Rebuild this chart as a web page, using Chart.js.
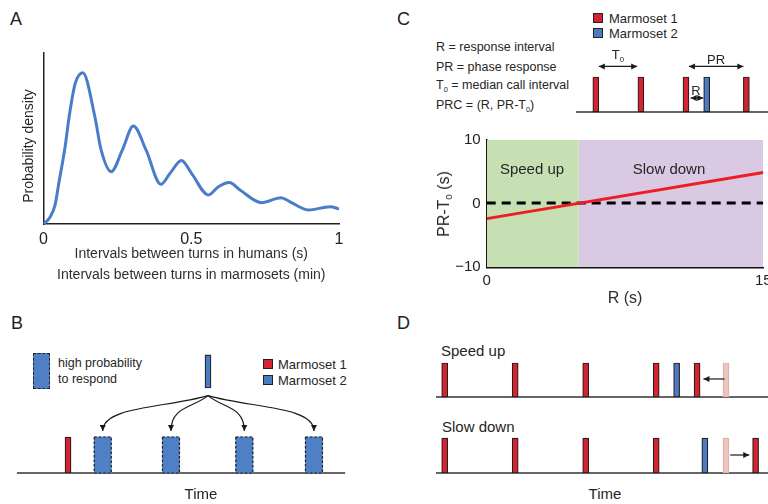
<!DOCTYPE html>
<html>
<head>
<meta charset="utf-8">
<script src="https://cdn.jsdelivr.net/npm/chart.js@4.4.1/dist/chart.umd.min.js"></script>
<style>
  html, body { margin: 0; padding: 0; background: #fff; }
  body { width: 768px; height: 504px; position: relative; overflow: hidden;
         font-family: 'Liberation Sans', Arial, sans-serif; color: #262626; }
  canvas { position: absolute; }
  .l, .c { position: absolute; white-space: nowrap; line-height: 1; }
  .l { transform: translateY(-50%); }
  .c { transform: translate(-50%, -50%); }
  .rot { transform: translate(-50%, -50%) rotate(-90deg); }
  .letter { font-size: 18px; color: #1e1e1e; }
  .sq { position: absolute; width: 10px; height: 10px; border: 1px solid #222; box-sizing: border-box; }
  .sub { font-size: 0.6em; position: relative; top: 0.35em; }
</style>
</head>
<body>

<!-- panel letters -->
<div class="l letter" style="left:10px;top:19px">A</div>
<div class="l letter" style="left:397px;top:19px">C</div>
<div class="l letter" style="left:11px;top:323px">B</div>
<div class="l letter" style="left:397px;top:323px">D</div>

<!-- A -->
<canvas id="densityChart" width="384" height="290" style="left:0;top:0"></canvas>
<div class="c rot" style="left:27.5px;top:146px;font-size:14px">Probability density</div>

<!-- C text + schematic -->
<div class="l" style="left:436px;top:47px;font-size:12.5px">R = response interval</div>
<div class="l" style="left:436px;top:67px;font-size:12.5px">PR = phase response</div>
<div class="l" style="left:436px;top:85px;font-size:12.5px">T<span class="sub">0</span> = median call interval</div>
<div class="l" style="left:436px;top:105px;font-size:12.5px">PRC = (R, PR-T<span class="sub">0</span>)</div>
<div class="sq" style="left:593px;top:13px;background:#d42432"></div>
<div class="l" style="left:609px;top:18px;font-size:13px">Marmoset 1</div>
<div class="sq" style="left:593px;top:28px;background:#4a7cc4"></div>
<div class="l" style="left:609px;top:33px;font-size:13px">Marmoset 2</div>
<canvas id="defChart" width="192" height="65" style="left:576px;top:50px"></canvas>
<div class="c" style="left:618px;top:54px;font-size:13px">T<span class="sub">0</span></div>
<div class="c" style="left:716px;top:59px;font-size:13px">PR</div>
<div class="c" style="left:696px;top:90px;font-size:13px">R</div>

<!-- C chart -->
<canvas id="prcChart" width="384" height="180" style="left:384px;top:130px"></canvas>
<div class="c" style="left:532px;top:168px;font-size:15px">Speed up</div>
<div class="c" style="left:669px;top:168px;font-size:15px">Slow down</div>
<div class="c rot" style="left:444px;top:204px;font-size:16px">PR-T<span class="sub">0</span> (s)</div>

<!-- B -->
<div style="position:absolute;left:33px;top:353px;width:17px;height:36px;box-sizing:border-box;background:#4f80c6;border:1px dashed #222"></div>
<div class="l" style="left:58px;top:363px;font-size:12.5px">high probability</div>
<div class="l" style="left:58px;top:379px;font-size:12.5px">to respond</div>
<div class="sq" style="left:263px;top:359px;background:#d42432"></div>
<div class="l" style="left:278px;top:363.5px;font-size:13px">Marmoset 1</div>
<div class="sq" style="left:263px;top:375px;background:#4a7cc4"></div>
<div class="l" style="left:278px;top:379.5px;font-size:13px">Marmoset 2</div>
<canvas id="turnChart" width="340" height="140" style="left:10px;top:340px"></canvas>
<div class="c" style="left:201px;top:493px;font-size:15px">Time</div>

<!-- D -->
<div class="l" style="left:441px;top:350px;font-size:15px">Speed up</div>
<canvas id="speedChart" width="338" height="47" style="left:430px;top:355px"></canvas>
<div class="l" style="left:442px;top:426px;font-size:15px">Slow down</div>
<canvas id="slowChart" width="338" height="47" style="left:430px;top:430px"></canvas>
<div class="c" style="left:605px;top:493px;font-size:15px">Time</div>

<script>
// ---- data ----
// A: probability density of inter-turn intervals
const densityX = [0, 0.022, 0.039, 0.052, 0.073, 0.087, 0.107, 0.133, 0.174, 0.195, 0.229, 0.267,
  0.304, 0.347, 0.397, 0.428, 0.467, 0.501, 0.558, 0.592, 0.629, 0.665, 0.738, 0.804, 0.834,
  0.896, 0.97, 1.0];
const densityY = [0, 0.04, 0.11, 0.24, 0.45, 0.63, 0.82, 0.885, 0.626, 0.433, 0.306, 0.433,
  0.573, 0.433, 0.232, 0.296, 0.372, 0.296, 0.17, 0.218, 0.242, 0.199, 0.125, 0.154, 0.13,
  0.082, 0.101, 0.088];
const densityTicks = [0, 0.5, 1];

// C: phase response curve
const prcR = [0, 15];
const prcValue = [-2.35, 4.9];
const zeroLevel = [0.1, 0.1];
const speedUpRange = [0, 5];
const slowDownRange = [5, 15];
const prcXTicks = [0, 15];
const prcYTicks = [-10, 0, 10];

// C: definition schematic (call onsets)
const defMarmoset1 = [0, 5, 10, 16.7];
const defMarmoset2 = [12.3];

// B: turn-taking schematic
const turnMarmoset1 = [0];
const turnMarmoset2 = [20];
const respondWindows = [4.96, 14.71, 25.19, 35.14];

// D: speed up / slow down
const speedUpM1 = [0, 1, 2, 3, 3.58];
const speedUpM2 = [3.29];
const speedUpExpected = [3.99];
const slowDownM1 = [0, 1, 2, 3, 4.41];
const slowDownM2 = [3.69];
const slowDownExpected = [3.99];

const RED = '#d42432', BLUE = '#4a7cc4', EDGE = '#2a1c1c', GHOST = '#ecc5bd';

Chart.defaults.font.family = "'Liberation Sans', Arial, sans-serif";
Chart.defaults.color = '#222';
Chart.defaults.animation = false;

const pairs = (xs, ys) => xs.map((x, i) => ({x: x, y: ys[i]}));
const setTicks = list => scale => { scale.ticks = list.map(v => ({value: v})); };

// dashed outline on bars flagged "dashed"
const dashedBars = {
  id: 'dashedBars',
  afterDatasetsDraw(chart) {
    const ctx = chart.ctx;
    chart.data.datasets.forEach((ds, i) => {
      if (!ds.dashed) return;
      chart.getDatasetMeta(i).data.forEach(bar => {
        const {x, y, base, width} = bar.getProps(['x', 'y', 'base', 'width'], true);
        ctx.save();
        ctx.setLineDash([2.5, 2]);
        ctx.strokeStyle = '#1e1e1e';
        ctx.lineWidth = 1.2;
        ctx.strokeRect(x - width / 2, Math.min(y, base), width, Math.abs(base - y));
        ctx.restore();
      });
    });
  }
};

function arrowHead(ctx, fx, fy, tx, ty, len) {
  const a = Math.atan2(ty - fy, tx - fx);
  ctx.beginPath();
  ctx.moveTo(tx, ty);
  ctx.lineTo(tx - len * Math.cos(a) + len * 0.5 * Math.sin(a), ty - len * Math.sin(a) - len * 0.5 * Math.cos(a));
  ctx.lineTo(tx - len * Math.cos(a) - len * 0.5 * Math.sin(a), ty - len * Math.sin(a) + len * 0.5 * Math.cos(a));
  ctx.closePath();
  ctx.fill();
}

// arrows given in data units
function arrowLayer(items) {
  return {
    id: 'arrows',
    afterDatasetsDraw(chart) {
      const {ctx, scales: {x, y}} = chart;
      ctx.save();
      ctx.strokeStyle = ctx.fillStyle = '#1a1a1a';
      ctx.lineWidth = 1.2;
      items.forEach(a => {
        const x0 = x.getPixelForValue(a.x0), y0 = y.getPixelForValue(a.y0);
        const x1 = x.getPixelForValue(a.x1), y1 = y.getPixelForValue(a.y1);
        let cx = x0, cy = y0;
        ctx.beginPath();
        ctx.moveTo(x0, y0);
        if (a.curve) {
          // leave the source slightly downwards, arrive vertically
          const dx = x1 - x0, dy = y1 - y0;
          cx = x1; cy = y0 + 0.3 * dy;
          ctx.bezierCurveTo(x0 + 0.4 * dx, y0 + 0.35 * dy, cx, cy, x1, y1);
        } else {
          ctx.lineTo(x1, y1);
        }
        ctx.stroke();
        arrowHead(ctx, cx, cy, x1, y1, 6);
        if (a.both) arrowHead(ctx, x1, y1, x0, y0, 6);
      });
      ctx.restore();
    }
  };
}

function calls(times, lo, hi, fill, edge, thick, extra) {
  return Object.assign({
    data: times.map(t => ({x: t, y: [lo, hi]})),
    backgroundColor: fill, borderColor: edge, borderWidth: 1.2,
    borderSkipped: false, barThickness: thick, grouped: false, order: 1
  }, extra || {});
}

function baseline(from, to) {
  return {type: 'line', data: [{x: from, y: 0}, {x: to, y: 0}], borderColor: '#333',
    borderWidth: 1.5, pointRadius: 0, order: 5};
}

function trainChart(id, view, datasets, arrows) {
  return new Chart(document.getElementById(id), {
    type: 'bar',
    data: {datasets: datasets},
    options: {
      responsive: false,
      layout: {padding: 0, autoPadding: false},
      plugins: {legend: {display: false}, tooltip: {enabled: false}},
      scales: {
        x: {type: 'linear', display: false, offset: false, min: view.x[0], max: view.x[1]},
        y: {display: false, min: view.y[0], max: view.y[1]}
      }
    },
    plugins: [dashedBars, arrowLayer(arrows)]
  });
}

// A: density curve
new Chart(document.getElementById('densityChart'), {
  type: 'line',
  data: {
    datasets: [{
      data: pairs(densityX, densityY),
      borderColor: '#4a7dc9', borderWidth: 3, pointRadius: 0,
      cubicInterpolationMode: 'monotone'
    }]
  },
  options: {
    responsive: false,
    layout: {padding: {top: 53, right: 45, left: 0, bottom: 0}, autoPadding: false},
    plugins: {legend: {display: false}, tooltip: {enabled: false}},
    scales: {
      x: {
        type: 'linear', min: 0, max: 1,
        afterBuildTicks: setTicks(densityTicks),
        afterFit: s => { s.height = 66; s.paddingLeft = 0; s.paddingRight = 0; },
        grid: {display: false, drawTicks: false},
        border: {color: '#222', width: 1.5},
        ticks: {font: {size: 16}, padding: 6, maxRotation: 0, callback: v => String(v)},
        title: {
          display: true,
          text: ['Intervals between turns in humans (s)', 'Intervals between turns in marmosets (min)'],
          font: {size: 14, lineHeight: 1.5}, color: '#2e2e2e', padding: {top: 0, bottom: 4.5}
        }
      },
      y: {
        min: 0, max: 1,
        afterFit: s => { s.width = 43.5; },
        grid: {display: false, drawTicks: false},
        border: {color: '#222', width: 1.5},
        ticks: {display: false}
      }
    }
  }
});

// C: phase response curve
new Chart(document.getElementById('prcChart'), {
  type: 'line',
  data: {
    datasets: [
      {data: pairs(prcR, prcValue), borderColor: '#ee1c24', borderWidth: 3, pointRadius: 0, order: 1},
      {data: pairs(prcR, zeroLevel), borderColor: '#000', borderWidth: 3, borderDash: [9, 6],
        pointRadius: 0, order: 2},
      {data: pairs(speedUpRange, [10, 10]), fill: 'start', backgroundColor: '#c6e0b4',
        borderWidth: 0, pointRadius: 0, order: 10},
      {data: pairs(slowDownRange, [10, 10]), fill: 'start', backgroundColor: '#d9c9e3',
        borderWidth: 0, pointRadius: 0, order: 11}
    ]
  },
  options: {
    responsive: false,
    layout: {padding: {top: 10, right: 4.7, left: 0, bottom: 0}, autoPadding: false},
    plugins: {legend: {display: false}, tooltip: {enabled: false}},
    scales: {
      x: {
        type: 'linear', min: 0, max: 15,
        afterBuildTicks: setTicks(prcXTicks),
        afterFit: s => { s.height = 42.7; s.paddingLeft = 0; s.paddingRight = 0; },
        grid: {display: false, drawTicks: false},
        border: {color: '#111', width: 1.5},
        ticks: {font: {size: 15}, padding: 5, maxRotation: 0},
        title: {display: true, text: 'R (s)', font: {size: 16}, color: '#2e2e2e', padding: {top: 0, bottom: 2}}
      },
      y: {
        min: -10, max: 10,
        afterBuildTicks: setTicks(prcYTicks),
        afterFit: s => { s.width = 102.7; s.paddingTop = 0; s.paddingBottom = 0; },
        grid: {display: false, drawTicks: false},
        border: {color: '#111', width: 1.5},
        ticks: {font: {size: 15}, padding: 6, callback: v => String(v).replace('-', '\u2212')}
      }
    }
  }
});

// C: definition schematic
trainChart('defChart', {x: [-2.2, 19.1], y: [-0.086, 1.77]}, [
  calls(defMarmoset1, 0, 1, RED, EDGE, 6),
  calls(defMarmoset2, 0, 1, BLUE, EDGE, 6),
  baseline(-2.2, 19.1)
], [
  {x0: 0.33, y0: 1.3, x1: 4.59, y1: 1.3, both: true},
  {x0: 10.33, y0: 1.3, x1: 16.37, y1: 1.3, both: true},
  {x0: 10.52, y0: 0.4, x1: 11.92, y1: 0.4, both: true}
]);

// B: turn-taking schematic
trainChart('turnChart', {x: [-8.29, 40.29], y: [-0.194, 3.694]}, [
  calls(turnMarmoset1, 0, 1, RED, EDGE, 6),
  calls(turnMarmoset2, 2.36, 3.28, BLUE, EDGE, 6),
  calls(respondWindows, 0, 1, '#4f80c6', '#4f80c6', 17, {borderWidth: 0, dashed: true}),
  baseline(-7.3, 39.6)
], respondWindows.map(t => ({x0: 20, y0: 2.15, x1: t, y1: 1.17, curve: true})));

// D: speed up / slow down
trainChart('speedChart', {x: [-0.2085, 4.586], y: [-0.147, 1.235]}, [
  calls(speedUpM1, 0, 1, RED, EDGE, 6),
  calls(speedUpM2, 0, 1, BLUE, EDGE, 6),
  calls(speedUpExpected, 0, 1, GHOST, '#dcb3aa', 6),
  baseline(-0.123, 4.586)
], [{x0: 3.97, y0: 0.53, x1: 3.67, y1: 0.53}]);

trainChart('slowChart', {x: [-0.2085, 4.586], y: [-0.114, 1.229]}, [
  calls(slowDownM1, 0, 1, RED, EDGE, 6),
  calls(slowDownM2, 0, 1, BLUE, EDGE, 6),
  calls(slowDownExpected, 0, 1, GHOST, '#dcb3aa', 6),
  baseline(-0.123, 4.586)
], [{x0: 4.05, y0: 0.514, x1: 4.32, y1: 0.514}]);
</script>
</body>
</html>
